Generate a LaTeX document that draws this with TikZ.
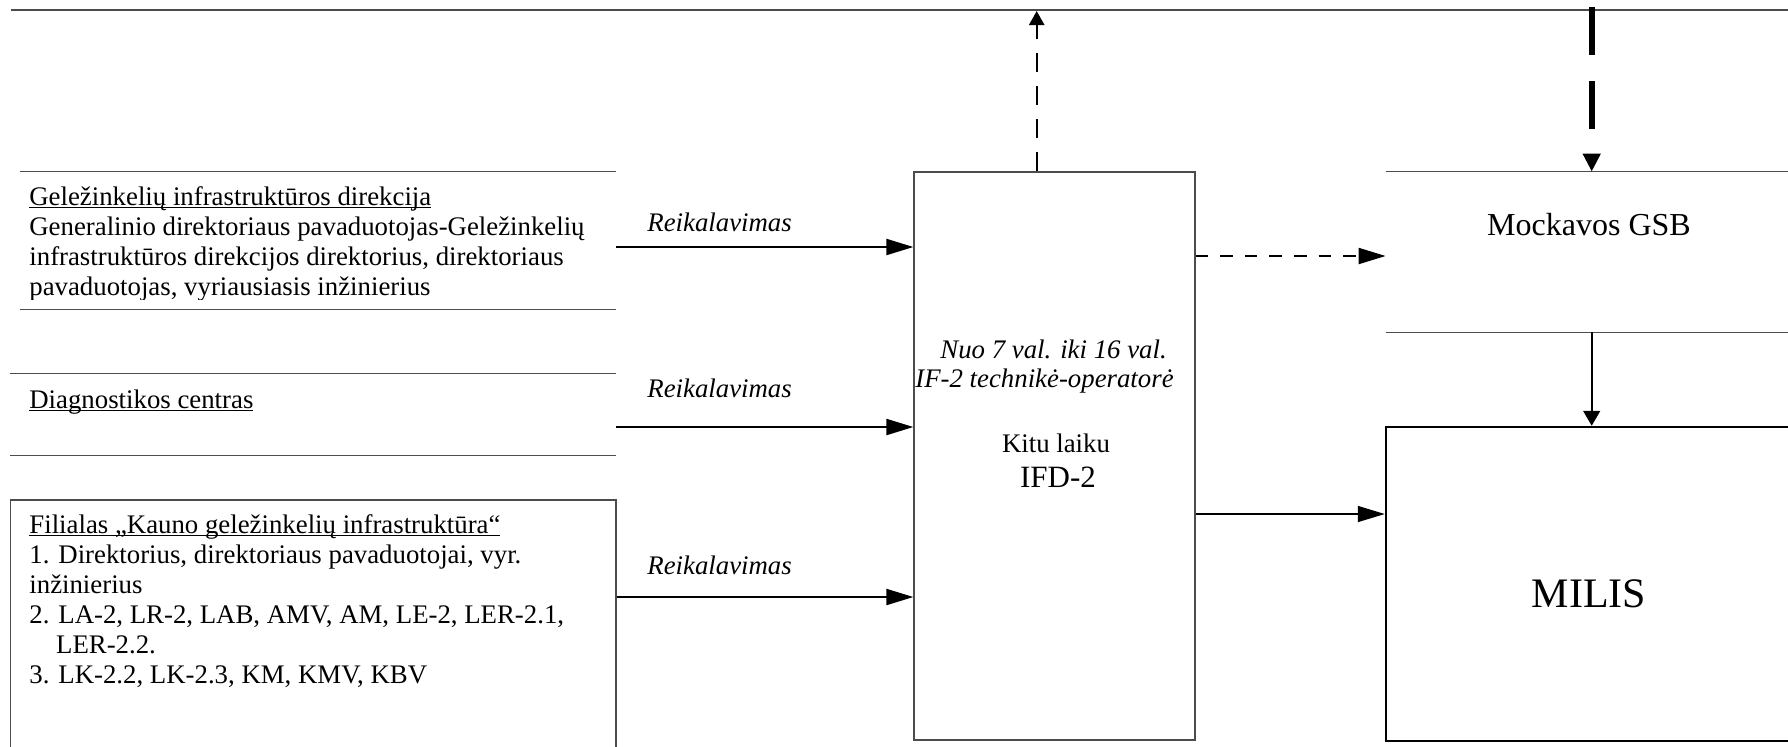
\documentclass[tikz,border=0pt]{standalone}
\usepackage{fontspec}
\setmainfont{Liberation Serif}
\usetikzlibrary{arrows.meta}
\newcommand\myul[1]{\setbox0\hbox{#1}\rlap{\rule[-1.6pt]{\wd0}{0.6pt}}\box0}
\tikzset{
  lbl/.style={inner sep=0pt, font=\fontsize{13.4}{15}\selectfont},
  ilbl/.style={inner sep=0pt, font=\fontsize{13.4}{15}\selectfont\itshape},
  blk/.style={draw=none, inner sep=0pt},
  thinline/.style={draw=black!70, line width=0.65pt},
  arr/.style={line width=1.1pt, -{Triangle[length=13.5pt,width=8pt]}},
  arrthin/.style={line width=0.8pt, -{Triangle[length=13.5pt,width=8pt]}},
  darr/.style={line width=1pt, dash pattern=on 6.3pt off 6pt, -{Triangle[length=13.5pt,width=8pt]}},
  uarr/.style={line width=1.2pt, dash pattern=on 9.5pt off 7pt, -{Triangle[length=7pt,width=7.5pt]}},
  tarr/.style={line width=3pt, dash pattern=on 24pt off 13pt, -{Triangle[length=9pt,width=8.5pt]}},
  sarr/.style={line width=0.8pt, -{Triangle[length=7.5pt,width=8.5pt]}}
}
\begin{document}
\begin{tikzpicture}[x=0.5pt,y=-0.5pt]
\useasboundingbox (0,0) rectangle (1788,746);
\clip (0,0) rectangle (1788,746);

% top line
\draw[thinline] (10.7,10) -- (1790,10);

% left blocks
\node[blk, minimum width=297.75pt, minimum height=68.5pt] (b1) at (318.25,240.5) {};
\draw[thinline] (b1.north west) -- (b1.north east) (b1.south west) -- (b1.south east);
\node[blk, minimum width=302.65pt, minimum height=40.5pt] (b2) at (313.35,414.5) {};
\draw[thinline] (b2.north west) -- (b2.north east) (b2.south west) -- (b2.south east);
\node[blk, thinline, minimum width=302.65pt, minimum height=130pt] (b3) at (313.35,630) {};

\begin{scope}
\clip (20,172) rectangle (616,299);
\node[lbl, anchor=base west] (t1) at (29,205) {\begin{tabular}[t]{@{}l@{}}
\myul{Geležinkelių infrastruktūros direkcija}\\
Generalinio direktoriaus pavaduotojas-Geležinkelių\\
infrastruktūros direkcijos direktorius, direktoriaus\\
pavaduotojas, vyriausiasis inžinierius\end{tabular}};
\end{scope}
\node[lbl, anchor=base west] (t2) at (29,408) {\myul{Diagnostikos centras}};
\node[lbl, anchor=base west] (t3) at (29,533) {\begin{tabular}[t]{@{}l@{}}
\myul{Filialas „Kauno geležinkelių infrastruktūra“}\\
1. Direktorius, direktoriaus pavaduotojai, vyr.\\
inžinierius\\
2. LA-2, LR-2, LAB, AMV, AM, LE-2, LER-2.1,\\
\phantom{2.} LER-2.2.\\
3. LK-2.2, LK-2.3, KM, KMV, KBV\end{tabular}};

% centre box
\node[blk, thinline, minimum width=140.5pt, minimum height=284pt] (cb) at (1054.5,456) {};
\node[ilbl, anchor=base west] (c1) at (940,358) {Nuo 7 val. iki 16 val.};
\node[ilbl, anchor=base west] (c2) at (915,387) {IF-2 technikė-operatorė};
\node[lbl, anchor=base] (c3) at (1056,452) {Kitu laiku};
\node[inner sep=0pt, font=\fontsize{15.5}{18}\selectfont, anchor=base] (c4) at (1058,487) {IFD-2};

% Mockavos GSB
\node[blk, minimum width=207pt, minimum height=80pt] (mk) at (1593,252) {};
\draw[thinline] (mk.north west) -- (mk.north east) (mk.south west) -- (mk.south east);
\node[inner sep=0pt, font=\fontsize{16}{19}\selectfont, anchor=base] (mkl) at (1589,235) {Mockavos GSB};

% MILIS
\node[draw=black, line width=1.25pt, inner sep=0pt, minimum width=207pt, minimum height=157pt] (ml) at (1593,584) {};
\node[inner sep=0pt, font=\fontsize{21}{25}\selectfont, anchor=base] (mll) at (1589,607) {MILIS};

% labels
\node[ilbl, anchor=base west] (r1) at (647,231) {Reikalavimas};
\node[ilbl, anchor=base west] (r2) at (647,397) {Reikalavimas};
\node[ilbl, anchor=base west] (r3) at (647,574) {Reikalavimas};

% connectors
\coordinate (y1) at (0,247);
\coordinate (y2) at (0,427);
\coordinate (y3) at (0,597);
\coordinate (y4) at (0,256);
\coordinate (y5) at (0,514);
\coordinate (up) at (1036.7,11);
\coordinate (tk) at (1591.7,7);
\draw[arr] (b1.east |- y1) -- (cb.west |- y1);
\draw[arr] (b2.east |- y2) -- (cb.west |- y2);
\draw[arr] (b3.east |- y3) -- (cb.west |- y3);
\draw[darr] (cb.east |- y4) -- (mk.west |- y4);
\draw[arrthin] (cb.east |- y5) -- (ml.west |- y5);
\draw[uarr] (cb.north -| up) -- (up);
\draw[tarr] (tk) -- (mk.north -| tk);
\draw[sarr] (mk.south -| tk) -- (ml.north -| tk);
\end{tikzpicture}
\end{document}
